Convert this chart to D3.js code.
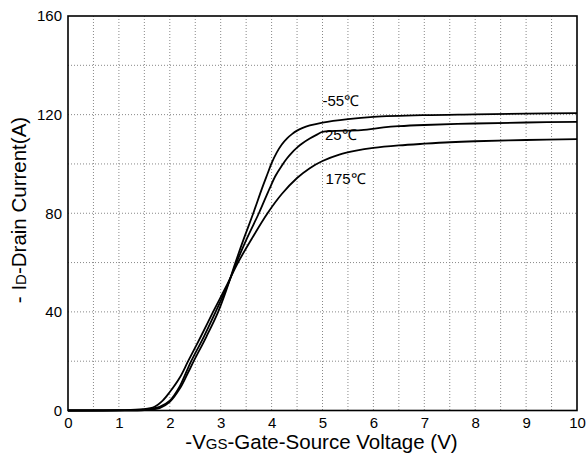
<!DOCTYPE html>
<html>
<head>
<meta charset="utf-8">
<script src="https://d3js.org/d3.v7.min.js"></script>
<style>
  body { margin: 0; background: #fff; }
  svg { font-family: "Liberation Sans", Arial, sans-serif; }
</style>
</head>
<body>
<svg id="chart" width="586" height="454"></svg>
<script>
// curve data: [-Vgs (V), -Id (A)]
const curveM55 = [[0,0],[1,0.05],[1.5,0.2],[1.8,1],[2.0,3.5],[2.2,9],[2.35,15],[2.47,20],[2.72,30],[2.95,40],
  [3.13,50],[3.29,60],[3.46,70],[3.64,80],[3.81,90],[3.92,96],[4.0,100.3],[4.1,104.6],[4.2,107.9],
  [4.3,110.3],[4.4,112.1],[4.5,113.5],[4.6,114.5],[4.75,115.6],[5,116.8],[5.5,118.2],[6,119.1],
  [7,119.8],[8,120.1],[9,120.4],[10,120.6]];
const curve25 = [[0,0],[1,0.05],[1.5,0.3],[1.8,1.5],[2.0,4],[2.2,10],[2.31,15],[2.42,20],[2.67,30],[2.9,40],
  [3.12,50],[3.31,60],[3.52,70],[3.75,80],[3.96,90],[4.08,95.3],[4.2,99.3],[4.3,102.2],[4.4,104.6],
  [4.5,106.6],[4.6,108.3],[4.75,110.3],[4.9,112],[5,113],[5.76,113.7],[6.2,114.8],[6.5,115.3],
  [7,115.8],[8,116.4],[9,116.8],[10,117.1]];
const curve175 = [[0,0],[1,0.1],[1.47,0.5],[1.7,1.5],[1.86,4],[2.0,7.5],[2.2,13.5],[2.36,20],[2.61,30],
  [2.85,40],[3.1,50],[3.34,60],[3.62,70],[3.92,80],[4.2,87.8],[4.5,94.3],[4.75,98.3],[5,101.2],
  [5.33,103.8],[5.66,105.4],[6,106.5],[6.5,107.5],[7,108.2],[7.5,108.8],[8,109.2],[9,109.7],[10,110.1]];
const xTicks = [0,1,2,3,4,5,6,7,8,9,10];
const yTicks = [0,40,80,120,160];
const xGrid = d3.range(0.5, 10, 0.5);
const yGrid = [20,40,60,80,100,120,140];
const labels = [
  {text: "-55\u2103", v: 5.0, i: 123.7},
  {text: "25\u2103", v: 5.05, i: 109.8},
  {text: "175\u2103", v: 5.06, i: 92}
];
// gap in the 25 degree curve where its label sits
const gap25 = [5.0, 5.76];

const svg = d3.select("#chart");
const mLeft = 68, mRight = 577, mTop = 16, mBottom = 410.5;
const x = d3.scaleLinear().domain([0, 10]).range([mLeft, mRight]);
const y = d3.scaleLinear().domain([0, 160]).range([mBottom, mTop]);

// grid
svg.append("g").selectAll("line").data(xGrid).join("line")
  .attr("x1", d => x(d)).attr("x2", d => x(d)).attr("y1", mTop).attr("y2", mBottom)
  .attr("stroke", "#888").attr("stroke-width", 1).attr("stroke-dasharray", "1,2");
svg.append("g").selectAll("line").data(yGrid).join("line")
  .attr("y1", d => y(d)).attr("y2", d => y(d)).attr("x1", mLeft).attr("x2", mRight)
  .attr("stroke", "#888").attr("stroke-width", 1).attr("stroke-dasharray", "1,2");

// axes
const xAxis = svg.append("g").attr("transform", `translate(0,${mBottom})`)
  .call(d3.axisBottom(x).tickValues(xTicks).tickSize(0).tickPadding(7));
const yAxis = svg.append("g").attr("transform", `translate(${mLeft},0)`)
  .call(d3.axisLeft(y).tickValues(yTicks).tickSize(0).tickPadding(6));
[xAxis, yAxis].forEach(g => {
  g.select(".domain").remove();
  g.selectAll("text").attr("font-size", 15).attr("fill", "#000")
    .attr("font-family", "'Liberation Sans', Arial, sans-serif");
});

// frame
svg.append("rect").attr("x", mLeft).attr("y", mTop)
  .attr("width", mRight - mLeft).attr("height", mBottom - mTop)
  .attr("fill", "none").attr("stroke", "#000").attr("stroke-width", 1.6);

// curves
const line = d3.line().x(d => x(d[0])).y(d => y(d[1])).curve(d3.curveCatmullRom.alpha(0.5));
const lineGap = d3.line().x(d => x(d[0])).y(d => y(d[1])).curve(d3.curveCatmullRom.alpha(0.5))
  .defined(d => d[0] <= gap25[0] || d[0] >= gap25[1]);
[curveM55, curve175].forEach(c => {
  svg.append("path").attr("d", line(c)).attr("fill", "none")
    .attr("stroke", "#000").attr("stroke-width", 1.8);
});
svg.append("path").attr("d", lineGap(curve25)).attr("fill", "none")
  .attr("stroke", "#000").attr("stroke-width", 1.8);

// curve labels
svg.append("g").selectAll("text").data(labels).join("text")
  .attr("x", d => x(d.v)).attr("y", d => y(d.i))
  .attr("font-size", 15).text(d => d.text);

// axis titles
const xt = svg.append("text").attr("x", 321.5).attr("y", 449)
  .attr("text-anchor", "middle").attr("font-size", 20.5);
xt.append("tspan").text("-V");
xt.append("tspan").attr("font-size", 15).text("GS");
xt.append("tspan").text("-Gate-Source Voltage (V)");

const yt = svg.append("text")
  .attr("transform", `translate(26,210) rotate(-90)`)
  .attr("text-anchor", "middle").attr("font-size", 20.5);
yt.append("tspan").text("- I");
yt.append("tspan").attr("font-size", 15).text("D");
yt.append("tspan").text("-Drain Current(A)");
</script>
</body>
</html>
